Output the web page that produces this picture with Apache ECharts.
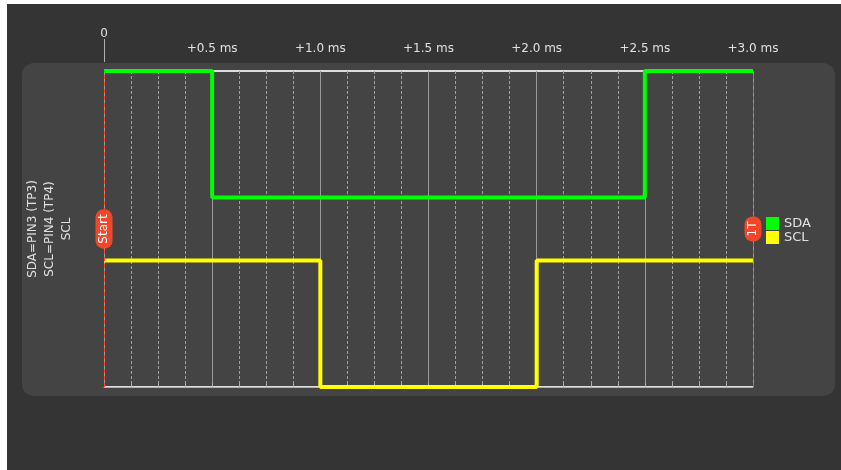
<!DOCTYPE html>
<html>
<head>
<meta charset="utf-8">
<script src="https://cdn.jsdelivr.net/npm/echarts@6/dist/echarts.min.js"></script>
<style>
  html, body { margin: 0; padding: 0; background: #ffffff; }
  #bg { position: absolute; left: 7px; top: 4px; width: 834px; height: 466px; background: #343434; }
  #panel { position: absolute; left: 22px; top: 63px; width: 813px; height: 333px; background: #444444; border-radius: 12px; }
  #chart { position: absolute; left: 0; top: 0; width: 841px; height: 470px; }
</style>
</head>
<body>
<div id="bg"></div>
<div id="panel"></div>
<div id="chart"></div>
<script>
// Transition times (ms) and logic levels
var timesMs = [0, 0.5, 1.0, 2.0, 2.5, 3.0];
var sdaLevels = [1, 0, 0, 0, 1, 1];
var sclLevels = [1, 1, 0, 1, 1, 1];
var tickLabelValues = [0.5, 1.0, 1.5, 2.0, 2.5, 3.0];
var channelNames = ['SDA', 'SCL'];
var channelColors = ['#00ff00', '#ffff00'];
var markers = [{ t: 0, name: 'Start' }, { t: 3.0, name: '1T' }];
var axisTitle = 'SDA=PIN3 (TP3)\nSCL=PIN4 (TP4)\nSCL';

// Channel lane offsets (SDA upper lane, SCL lower lane)
var laneBase = [3, 0];
var laneHeight = 2;

function toSeriesData(levels, lane) {
  return timesMs.map(function (t, i) { return [t, laneBase[lane] + levels[i] * laneHeight]; });
}

var FONT = 'DejaVu Sans';
var chart = echarts.init(document.getElementById('chart'), null, { renderer: 'canvas' });

var option = {
  backgroundColor: 'transparent',
  animation: false,
  textStyle: { fontFamily: FONT },
  grid: { left: 104, right: 88, top: 71, bottom: 83 },
  legend: {
    orient: 'vertical',
    left: 766, top: 217, padding: 0,
    itemWidth: 13, itemHeight: 13, itemGap: 1,
    icon: 'rect',
    textStyle: { color: '#e0e0e0', fontSize: 13, fontFamily: FONT },
    data: channelNames
  },
  xAxis: [
    {
      type: 'value', position: 'top', offset: 9, min: 0, max: 3, interval: 0.125,
      axisLine: { show: true, lineStyle: { color: '#b0b0b0', width: 1 } },
      axisTick: { show: true, length: 4, lineStyle: { color: '#b0b0b0' } },
      axisLabel: {
        show: true, customValues: tickLabelValues, margin: 7,
        color: '#e0e0e0', fontSize: 12, fontFamily: FONT,
        formatter: function (v) { return '+' + v.toFixed(1) + ' ms'; }
      },
      splitLine: { show: true, lineStyle: { color: '#a0a0a0', type: [3, 2], width: 1 } }
    },
    {
      type: 'value', position: 'top', offset: 9, min: 0, max: 3, interval: 0.5,
      axisLine: { show: false }, axisTick: { show: false }, axisLabel: { show: false },
      splitLine: { show: true, lineStyle: { color: '#9a9a9a', type: 'solid', width: 1 } }
    },
    {
      type: 'value', position: 'top', offset: 9, min: 0, max: 3,
      axisLine: { show: false },
      axisTick: { show: true, customValues: [0], length: 23, lineStyle: { color: '#b0b0b0' } },
      axisLabel: {
        show: true, customValues: [0], margin: 22,
        color: '#e0e0e0', fontSize: 12, fontFamily: FONT,
        formatter: function () { return '0'; }
      },
      splitLine: { show: false }
    }
  ],
  yAxis: {
    type: 'value', min: 0, max: 5, interval: 5,
    axisLine: { show: false }, axisTick: { show: false }, axisLabel: { show: false },
    splitLine: { show: true, lineStyle: { color: '#dddddd', width: 2 } },
    name: axisTitle,
    nameLocation: 'middle', nameRotate: 90, nameGap: 29,
    nameTextStyle: { color: '#e0e0e0', fontSize: 12, fontFamily: FONT, lineHeight: 17, align: 'center' }
  },
  series: [
    {
      name: channelNames[0], type: 'line', step: 'end', symbol: 'none',
      data: toSeriesData(sdaLevels, 0),
      lineStyle: { color: channelColors[0], width: 4 },
      itemStyle: { color: channelColors[0] },
      z: 5
    },
    {
      name: channelNames[1], type: 'line', step: 'end', symbol: 'none',
      data: toSeriesData(sclLevels, 1),
      lineStyle: { color: channelColors[1], width: 4 },
      itemStyle: { color: channelColors[1] },
      z: 5,
      markLine: {
        silent: true, symbol: 'none', z: 6,
        lineStyle: { color: '#ff4a2a', type: [4, 3], width: 1 },
        label: {
          show: true, position: 'middle', distance: 0, verticalAlign: 'middle',
          color: '#ffffff', backgroundColor: '#f2462b', borderRadius: 8,
          padding: [3, 5, 2, 5], fontSize: 12, fontFamily: FONT
        },
        data: markers.map(function (m) { return { xAxis: m.t, label: { formatter: m.name } }; })
      }
    }
  ]
};
chart.setOption(option);
</script>
</body>
</html>
